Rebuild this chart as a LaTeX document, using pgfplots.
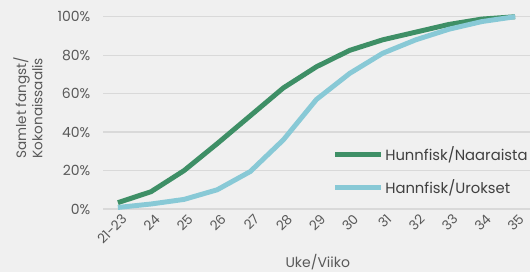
\documentclass[border=0pt]{standalone}
\usepackage{pgfplots}
\pgfplotsset{compat=1.18}
\usepackage{fontspec}
\setmainfont{Poppins}
\definecolor{bg}{HTML}{F0F0F0}
\definecolor{gridc}{HTML}{D9D9D9}
\definecolor{txt}{HTML}{595959}
\definecolor{txtd}{HTML}{404040}
\definecolor{green1}{HTML}{3E8F66}
\definecolor{blue1}{HTML}{88C9D6}
\begin{document}
\begin{tikzpicture}[x=0.75pt,y=0.75pt]
\fill[bg] (-103,-63) rectangle (427,209);
\useasboundingbox (-103,-63) rectangle (427,209);
\begin{axis}[
  at={(0,0)}, anchor=south west,
  scale only axis, width=320.25pt, height=144.2pt,
  xmin=-0.45, xmax=12.45, ymin=0, ymax=100,
  xtick={0,...,12},
  xticklabels={21-23,24,25,26,27,28,29,30,31,32,33,34,35},
  ytick={0,20,40,60,80,100},
  yticklabel={\pgfmathprintnumber{\tick}\%},
  /pgf/number format/assume math mode=true,
  ymajorgrids, grid style={gridc, line width=0.9pt},
  axis line style={draw=none},
  major tick length=0pt,
  tick label style={font=\fontsize{10.5}{12}\selectfont, text=txt},
  xticklabel style={rotate=45, anchor=north east, inner sep=0.5pt, yshift=-3pt, font=\fontsize{10}{11}\selectfont},
  yticklabel style={xshift=-6pt},
  xlabel={Uke/Viiko},
  xlabel style={font=\fontsize{10.5}{12}\selectfont, text=txt, at={(0.503,0)}, anchor=center, yshift=-40pt},
  legend style={at={(0.538,0.198)}, anchor=west, draw=none, fill=none,
    font=\fontsize{11.1}{13}\selectfont, text=txtd, row sep=10pt, inner sep=0pt,
    nodes={inner sep=1.5pt}},
  legend cell align=left,
  legend image code/.code={\draw[#1] (0pt,0pt) -- (34pt,0pt);},
  clip=false,
]
\addplot[green1, line width=3.7pt] coordinates {
(0,3.3) (1,9) (2,20) (3,34) (4,48.5) (5,63) (6,74) (7,82.5) (8,88) (9,92) (10,96) (11,98.8) (12,100)};
\addlegendentry{Hunnfisk/Naaraista}
\addplot[blue1, line width=3.7pt] coordinates {
(0,0.8) (1,2.6) (2,5) (3,10) (4,19.5) (5,36) (6,57) (7,70.5) (8,81) (9,88) (10,93.5) (11,97.5) (12,100)};
\addlegendentry{Hannfisk/Urokset}
\node[font=\fontsize{10.2}{12.2}\selectfont, text=txt, rotate=90, align=center, anchor=center]
  at (rel axis cs:-0.176,0.525) {Samlet fangst/\\Kokonaissaalis};
\end{axis}
\end{tikzpicture}
\end{document}
